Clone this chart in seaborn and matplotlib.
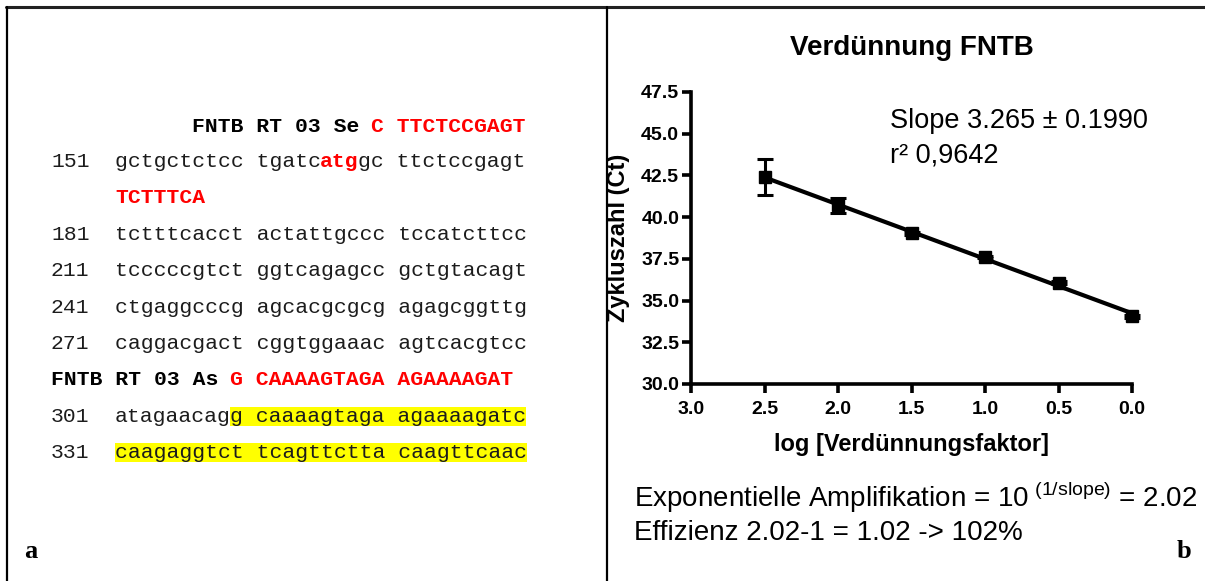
import numpy as np
import pandas as pd
import matplotlib
matplotlib.use("Agg")
import matplotlib.pyplot as plt
from matplotlib.lines import Line2D
import seaborn as sns

# ---------------- data ----------------
log_dilution = [2.5, 2.0, 1.5, 1.0, 0.5, 0.0]
ct_mean = [42.4, 40.7, 39.02, 37.62, 36.08, 34.05]
ct_err = [1.1, 0.45, 0.08, 0.08, 0.08, 0.08]
x_ticks = [3.0, 2.5, 2.0, 1.5, 1.0, 0.5, 0.0]
y_ticks = [30.0, 32.5, 35.0, 37.5, 40.0, 42.5, 45.0, 47.5]

seq_numbers = ["151", "181", "211", "241", "271", "301", "331"]
seq_lines = [
    "gctgctctcc tgatcatggc ttctccgagt",
    "tctttcacct actattgccc tccatcttcc",
    "tcccccgtct ggtcagagcc gctgtacagt",
    "ctgaggcccg agcacgcgcg agagcggttg",
    "caggacgact cggtggaaac agtcacgtcc",
    "atagaacagg caaaagtaga agaaaagatc",
    "caagaggtct tcagttctta caagttcaac",
]
sense_label = "FNTB RT 03 Se"
sense_primer = "C TTCTCCGAGT"
sense_primer_cont = "TCTTTCA"
anti_label = "FNTB RT 03 As"
anti_primer = "G CAAAAGTAGA AGAAAAGAT"

title_text = "Verdünnung FNTB"
xlabel_text = "log [Verdünnungsfaktor]"
ylabel_text = "Zykluszahl (Ct)"
slope_lines = ["Slope 3.265 \u00b1 0.1990", "r\u00b2 0,9642"]

# ---------------- style ----------------
sns.set_style("ticks")
plt.rcParams["font.family"] = ["Liberation Sans", "DejaVu Sans"]
plt.rcParams["mathtext.fontset"] = "custom"
plt.rcParams["mathtext.rm"] = "Liberation Sans"
for k in ["text.color", "axes.labelcolor", "xtick.color", "ytick.color", "axes.edgecolor"]:
    plt.rcParams[k] = "black"

W, H = 1205, 581
fig = plt.figure(figsize=(W / 100, H / 100), dpi=100)


def fx(x):
    return x / W


def fy(y):
    return 1 - y / H


# frame lines
fig.add_artist(Line2D([fx(6), fx(W)], [fy(7), fy(7)], color="#222222", lw=2.2))
fig.add_artist(Line2D([fx(7), fx(7)], [fy(7), fy(H)], color="black", lw=1.6))
fig.add_artist(Line2D([fx(607), fx(607)], [fy(7), fy(H)], color="black", lw=1.6))

# ---------------- left panel: sequence ----------------
mono = "Liberation Mono"
adv = 12.8
fs_mono = adv / 0.6 * 72 / 100
num_col = 51
seq_col = num_col + 5 * adv
seq_color = "#1c1c1c"


def mono_text(x, yc, s, color=seq_color, weight="normal", bg=None):
    kw = {}
    if bg is not None:
        kw["bbox"] = dict(facecolor=bg, edgecolor="none", pad=0)
    fig.text(fx(x), fy(yc + 6), s, family=mono, fontsize=fs_mono, color=color,
             weight=weight, va="baseline", ha="left", **kw)


row_y = [126, 161, 197, 234, 270, 307, 343, 379, 416, 452]
# sense primer row
mono_text(seq_col + 6 * adv, row_y[0], sense_label, color="black", weight="bold")
mono_text(seq_col + 20 * adv, row_y[0], sense_primer, color="red", weight="bold")
# row 151 with red atg
s0 = seq_lines[0]
mono_text(num_col, row_y[1], seq_numbers[0])
mono_text(seq_col, row_y[1], s0[:16])
mono_text(seq_col + 16 * adv, row_y[1], s0[16:19], color="red", weight="bold")
mono_text(seq_col + 19 * adv, row_y[1], s0[19:])
mono_text(seq_col, row_y[2], sense_primer_cont, color="red", weight="bold")
# rows 181..271
for i in range(1, 5):
    mono_text(num_col, row_y[i + 2], seq_numbers[i])
    mono_text(seq_col, row_y[i + 2], seq_lines[i])
# antisense primer row
mono_text(num_col, row_y[7], anti_label, color="black", weight="bold")
mono_text(num_col + 14 * adv, row_y[7], anti_primer, color="red", weight="bold")
# row 301 with highlight
s5 = seq_lines[5]
mono_text(num_col, row_y[8], seq_numbers[5])
mono_text(seq_col, row_y[8], s5[:9])
mono_text(seq_col + 9 * adv, row_y[8], s5[9:], bg="#ffff00")
# row 331 highlighted
mono_text(num_col, row_y[9], seq_numbers[6])
mono_text(seq_col, row_y[9], seq_lines[6], bg="#ffff00")

fig.text(fx(24), fy(558), "a", family="Liberation Serif", weight="bold", fontsize=19,
         va="baseline", ha="left")
fig.text(fx(1177), fy(558), "b", family="Liberation Serif", weight="bold", fontsize=19,
         va="baseline", ha="left")

# ---------------- right panel: chart ----------------
ax_l, ax_r, ax_t, ax_b = 691, 1132, 92, 384
ax = fig.add_axes([fx(ax_l), fy(ax_b), (ax_r - ax_l) / W, (ax_b - ax_t) / H])

df = pd.DataFrame({"logdil": log_dilution, "ct": ct_mean, "err": ct_err})
sns.regplot(data=df, x="logdil", y="ct", ax=ax, scatter=False, ci=None,
            color="black", line_kws=dict(lw=3.0, solid_capstyle="butt"))
eb = ax.errorbar(df["logdil"], df["ct"], yerr=df["err"], fmt="s", color="black",
                 ms=8, capsize=5.5, elinewidth=2.2, capthick=2.2, zorder=5)
for art in [eb.lines[0], *eb.lines[1], *eb.lines[2]]:
    art.set_clip_on(False)

ax.set_xlim(3.0, 0.0)
ax.set_ylim(30.0, 47.5)
ax.set_xticks(x_ticks)
ax.set_yticks(y_ticks)
ax.set_xticklabels([f"{v:.1f}" for v in x_ticks])
ax.set_yticklabels([f"{v:.1f}" for v in y_ticks])
sns.despine(ax=ax)
for sp in ["left", "bottom"]:
    ax.spines[sp].set_linewidth(2.6)
ax.tick_params(axis="both", length=6.5, width=2.6, labelsize=14, color="black",
               labelcolor="black")
ax.tick_params(axis="y", pad=2)
ax.tick_params(axis="x", pad=6)
for lab in ax.get_xticklabels() + ax.get_yticklabels():
    lab.set_fontweight("bold")

ax.set_xlabel(xlabel_text, fontsize=17, fontweight="bold", color="black")
ax.set_ylabel(ylabel_text, fontsize=17, fontweight="bold", color="black")
ax.xaxis.set_label_coords(0.5, (ax_b - 444) / (ax_b - ax_t))
ax.xaxis.label.set_va("center")
ax.yaxis.set_label_coords((618 - ax_l) / (ax_r - ax_l), 0.5)
ax.yaxis.label.set_va("center")

fig.text(fx((ax_l + ax_r) / 2), fy(55), title_text, fontsize=20, fontweight="bold",
         ha="center", va="baseline")
fig.text(fx(890), fy(128), slope_lines[0], fontsize=19.5, ha="left", va="baseline")
fig.text(fx(890), fy(162), slope_lines[1], fontsize=19.5, ha="left", va="baseline")

fig.text(fx(634), fy(507),
         r"Exponentielle Amplifikation = 10$^{\ \mathrm{(1/slope)}}$ = 2.02",
         fontsize=20, ha="left", va="baseline")
fig.text(fx(634), fy(540), "Effizienz 2.02-1 = 1.02 -> 102%",
         fontsize=20, ha="left", va="baseline")

fig.savefig("out.png", dpi=100)
